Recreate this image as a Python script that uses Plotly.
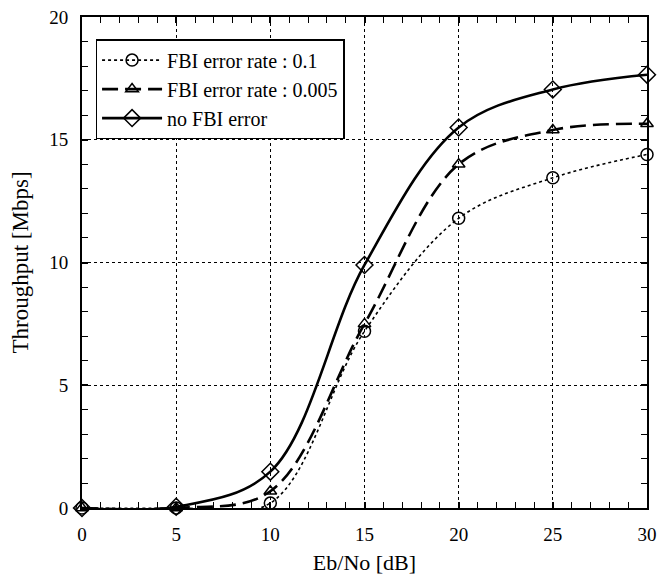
import plotly.graph_objects as go

# Throughput vs Eb/No for different FBI error rates

ebno = [0, 5, 10, 15, 20, 25, 30]
tp_fbi_01 = [0, 0, 0.2, 7.2, 11.8, 13.45, 14.4]
tp_fbi_0005 = [0, 0, 0.68, 7.5, 14.0, 15.4, 15.65]
tp_no_err = [0, 0.05, 1.48, 9.9, 15.5, 17.05, 17.65]

names = ['FBI error rate : 0.1', 'FBI error rate : 0.005', 'no FBI error']

FONT = 'Liberation Serif'

fig = go.Figure()

fig.add_trace(go.Scatter(
    x=ebno, y=tp_fbi_01, name=names[0], mode='lines+markers',
    line=dict(color='black', width=1.6, dash='dot', shape='spline', smoothing=1),
    marker=dict(symbol='circle-open', size=12, color='black', line=dict(width=1.5)),
    cliponaxis=False))

fig.add_trace(go.Scatter(
    x=ebno, y=tp_fbi_0005, name=names[1], mode='lines+markers',
    line=dict(color='black', width=2.6, dash='16px,7px', shape='spline', smoothing=1),
    marker=dict(symbol='triangle-up-open', size=11, color='black', line=dict(width=1.5)),
    cliponaxis=False))

fig.add_trace(go.Scatter(
    x=ebno, y=tp_no_err, name=names[2], mode='lines+markers',
    line=dict(color='black', width=2.6, shape='spline', smoothing=1),
    marker=dict(symbol='diamond-open', size=13, color='black', line=dict(width=1.5)),
    cliponaxis=False))

axis_style = dict(
    automargin=False,
    showline=True, linecolor='black', linewidth=2, mirror='allticks',
    ticks='inside', ticklen=6, tickwidth=1.5, tickcolor='black',
    showgrid=True, gridcolor='black', gridwidth=1, griddash='dot',
    zeroline=False,
    tickfont=dict(family=FONT, size=19, color='black'),
    ticklabelstandoff=8, ticklabeloverflow='allow',
    minor=dict(dtick=1, ticks='inside', ticklen=6, tickwidth=1.2,
               tickcolor='black', showgrid=False),
)

fig.update_xaxes(range=[0, 30], dtick=5, **axis_style,
                 title=dict(text='Eb/No [dB]', font=dict(family=FONT, size=22, color='black'),
                            standoff=12))
fig.update_yaxes(range=[0, 20], dtick=5, **axis_style,
                 title=dict(text='Throughput [Mbps]', font=dict(family=FONT, size=23, color='black'),
                            standoff=14))

# page body adds an 8px offset, so the figure is sized 8px smaller
fig.update_layout(
    width=663, height=567,
    margin=dict(l=74, r=24, t=9, b=67),
    paper_bgcolor='white', plot_bgcolor='white',
    font=dict(family=FONT, color='black'),
    legend=dict(x=0.024, y=0.955, xanchor='left', yanchor='top',
                bgcolor='white', bordercolor='black', borderwidth=1.5,
                font=dict(family=FONT, size=20, color='black'),
                itemwidth=60, tracegroupgap=0),
    showlegend=True,
)

fig.write_html("out.html")
